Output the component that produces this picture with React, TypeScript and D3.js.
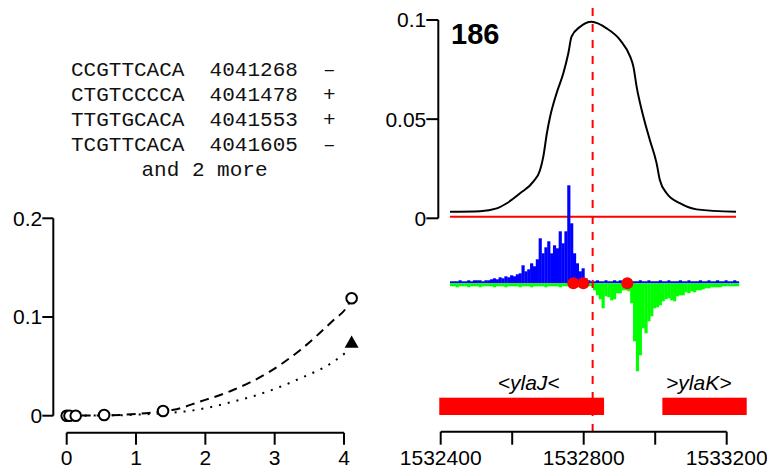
import React from "react";
import * as d3 from "d3";

// ---- left panel data ----
const motifLines = [
  "CCGTTCACA  4041268  \u2013",
  "CTGTCCCCA  4041478  +",
  "TTGTGCACA  4041553  +",
  "TCGTTCACA  4041605  \u2013",
];
const motifMore = "and 2 more";

const circleX = [0, 0.04, 0.13, 0.54, 1.39, 4.11];
const circleY = [0, 0, 0, 0.0007, 0.0048, 0.119];
const triangleX = [4.11];
const triangleY = [0.073];

const dashedX = [0, 0.5, 1, 1.4, 1.54, 1.92, 2.4, 2.89, 3.37, 3.85, 4.04, 4.11];
const dashedY = [0, 0.0003, 0.0017, 0.0047, 0.006, 0.0142, 0.026, 0.043, 0.0666, 0.097, 0.11, 0.119];
const dottedX = [0, 0.5, 1, 1.4, 1.73, 2.4, 2.89, 3.37, 3.85, 4.04];
const dottedY = [0, 0.0002, 0.001, 0.0025, 0.0045, 0.0142, 0.0243, 0.0379, 0.0547, 0.0648];

const leftXTicks = [0, 1, 2, 3, 4];
const leftYTicks = [0, 0.1, 0.2];

// ---- right panel data ----
const panelLabel = "186";
const rightYTicks = [0, 0.05, 0.1];
const genomeTicks = [1532400, 1532600, 1532800, 1533000, 1533200];
const genomeTickLabels = ["1532400", "", "1532800", "", "1533200"];

const profileX = [1532426, 1532510, 1532557, 1532585, 1532622, 1532659, 1532678, 1532687, 1532697, 1532706,
  1532724, 1532743, 1532757, 1532766, 1532790, 1532822, 1532864, 1532902, 1532930, 1532939,
  1532948, 1532967, 1532985, 1533004, 1533013, 1533032, 1533069, 1533116, 1533226];
const profileY = [0.0033, 0.0036, 0.005, 0.0076, 0.0126, 0.0185, 0.0244, 0.0311, 0.0429, 0.0512,
  0.063, 0.0731, 0.0832, 0.0916, 0.0966, 0.0991, 0.0958, 0.0899, 0.0815, 0.0765,
  0.0664, 0.0512, 0.0395, 0.0277, 0.0193, 0.0126, 0.0076, 0.0045, 0.0033];
const backgroundX = [1532426, 1533226];
const backgroundY = [0.0008, 0.0008];

const peakCenter = 1532825;

const coverageStart = 1532426;
const coverageStep = 8;
const plusCoverage = [
  2, 2, 2, 3, 2, 2, 3, 2, 3, 3, 3, 2, 3, 3, 4, 5, 4, 6, 5, 7,
  6, 8, 7, 9, 10, 18, 12, 14, 20, 17, 24, 45, 30, 36, 42, 30, 38, 35, 52, 40,
  52, 98, 60, 30, 20, 12, 15, 5, 3, 2, 2, 3, 2, 2, 3, 2, 2, 3, 2, 3,
  2, 2, 3, 2, 2, 2, 3, 2, 2, 3, 2, 2, 2, 3, 2, 2, 3, 2, 2, 2,
  3, 2, 2, 3, 2, 2, 2, 3, 2, 2, 3, 2, 2, 3, 2, 2, 3, 2, 2, 3, 2,
];
const minusCoverage = [
  3, 3, 4, 3, 3, 3, 4, 3, 3, 3, 4, 3, 3, 3, 3, 4, 3, 3, 3, 4,
  3, 3, 3, 3, 4, 3, 3, 3, 4, 3, 3, 3, 3, 4, 3, 3, 3, 3, 4, 3,
  3, 3, 3, 3, 4, 3, 3, 3, 3, 3, 7, 12, 16, 25, 13, 14, 17, 16, 10, 10,
  7, 7, 8, 20, 58, 88, 72, 45, 50, 38, 33, 25, 24, 22, 18, 16, 15, 17, 18, 13,
  12, 12, 9, 10, 8, 9, 7, 7, 6, 5, 5, 4, 4, 4, 4, 3, 3, 3, 3, 3, 3,
];
const siteX = [1532771, 1532799, 1532922];

const geneNames = ["<ylaJ<", ">ylaK>"];
const geneStart = [1532396, 1533020];
const geneEnd = [1532857, 1533256];
const geneLabelPos = [1532646, 1533122];

export default function App() {
  const W = 767, H = 474;
  const font = "Liberation Sans, Arial, sans-serif";

  // left scales
  const xL = d3.scaleLinear().domain([0, 4]).range([66.7, 344]);
  const yL = d3.scaleLinear().domain([0, 0.2]).range([415.7, 218.3]);
  // right scales
  const xG = d3.scaleLinear().domain([1532400, 1533200]).range([440.7, 726.7]);
  const yT = d3.scaleLinear().domain([0, 0.1]).range([218.3, 20]);
  const yC = d3.scaleLinear().domain([-100, 100]).range([383.3, 183.3]);

  const lineL = d3.line<[number, number]>().x(d => xL(d[0])).y(d => yL(d[1])).curve(d3.curveMonotoneX);
  const dashedPath = lineL(dashedX.map((x, i) => [x, dashedY[i]]))!;
  const dottedPath = lineL(dottedX.map((x, i) => [x, dottedY[i]]))!;

  const lineT = d3.line<[number, number]>().x(d => xG(d[0])).y(d => yT(d[1])).curve(d3.curveMonotoneX);
  const profilePath = lineT(profileX.map((x, i) => [x, profileY[i]]))!;
  const bgPath = d3.line<[number, number]>().x(d => xG(d[0])).y(d => yT(d[1]))(backgroundX.map((x, i) => [x, backgroundY[i]]))!;

  const tri = d3.symbol().type(d3.symbolTriangle).size(85)()!;

  const y0 = yC(0);
  const axisLX = 53.3;
  const axisLY = 432.7;
  const axisRX = 438.3;
  const axisGY = 431.7;

  return (
    <svg width={W} height={H} style={{ position: "absolute", left: 0, top: 0, background: "#fff" }}>
      {/* motif text */}
      <g fontFamily="Liberation Mono, Courier New, monospace" fontSize={21} fill="#111">
        {motifLines.map((t, i) => (
          <text key={i} x={71} y={76 + i * 25} style={{ whiteSpace: "pre" }} xmlSpace="preserve">{t}</text>
        ))}
        <text x={204.5} y={176} textAnchor="middle">{motifMore}</text>
      </g>

      {/* left panel axes */}
      <g stroke="#000" strokeWidth={2} fill="none">
        <line x1={axisLX} x2={axisLX} y1={yL(0.2)} y2={yL(0)} />
        {leftYTicks.map(t => <line key={t} x1={axisLX - 11} x2={axisLX} y1={yL(t)} y2={yL(t)} />)}
        <line x1={xL(0)} x2={xL(4)} y1={axisLY} y2={axisLY} />
        {leftXTicks.map(t => <line key={t} x1={xL(t)} x2={xL(t)} y1={axisLY} y2={axisLY + 12} />)}
      </g>
      <g fontFamily={font} fontSize={21} fill="#000">
        {leftYTicks.map(t => (
          <text key={t} x={axisLX - 11} y={yL(t)} dy="0.35em" textAnchor="end">{String(t)}</text>
        ))}
        {leftXTicks.map(t => (
          <text key={t} x={xL(t)} y={465} textAnchor="middle">{String(t)}</text>
        ))}
      </g>
      <path d={dashedPath} fill="none" stroke="#000" strokeWidth={2} strokeDasharray="9,6" />
      <path d={dottedPath} fill="none" stroke="#000" strokeWidth={2} strokeDasharray="2,7" />
      {circleX.map((x, i) => (
        <circle key={i} cx={xL(x)} cy={yL(circleY[i])} r={5.3} fill="#fff" stroke="#000" strokeWidth={2} />
      ))}
      {triangleX.map((x, i) => (
        <path key={i} d={tri} transform={`translate(${xL(x)},${yL(triangleY[i])})`} fill="#000" />
      ))}

      {/* right panel top axis */}
      <g stroke="#000" strokeWidth={2} fill="none">
        <line x1={axisRX} x2={axisRX} y1={yT(0.1)} y2={yT(0)} />
        {rightYTicks.map(t => <line key={t} x1={axisRX - 12} x2={axisRX} y1={yT(t)} y2={yT(t)} />)}
      </g>
      <g fontFamily={font} fontSize={21} fill="#000">
        {rightYTicks.map(t => (
          <text key={t} x={axisRX - 12} y={yT(t)} dy="0.35em" textAnchor="end">{String(t)}</text>
        ))}
      </g>
      <text x={451} y={44} fontFamily={font} fontSize={29} fontWeight="bold" fill="#000">{panelLabel}</text>

      <path d={bgPath} fill="none" stroke="#f00" strokeWidth={2} />
      <path d={profilePath} fill="none" stroke="#000" strokeWidth={2} />

      {/* coverage */}
      <g fill="#00f">
        {plusCoverage.map((v, i) => {
          const b = coverageStart + i * coverageStep;
          const x1 = xG(b), x2 = xG(b + coverageStep);
          return <rect key={i} x={x1} y={yC(v)} width={x2 - x1 + 0.3} height={y0 - yC(v)} />;
        })}
      </g>
      <g fill="#0f0">
        {minusCoverage.map((v, i) => {
          const b = coverageStart + i * coverageStep;
          const x1 = xG(b), x2 = xG(b + coverageStep);
          return <rect key={i} x={x1} y={y0} width={x2 - x1 + 0.3} height={yC(-v) - y0} />;
        })}
      </g>
      {siteX.map((s, i) => <circle key={i} cx={xG(s)} cy={y0} r={6} fill="#f00" />)}

      {/* genes */}
      {geneNames.map((g, i) => (
        <g key={g}>
          <rect x={xG(geneStart[i])} y={397.7} width={xG(geneEnd[i]) - xG(geneStart[i])} height={17.3} fill="#f00" />
          <text x={xG(geneLabelPos[i])} y={390} textAnchor="middle" fontFamily={font}
            fontSize={21} fontStyle="italic" fill="#000">{g}</text>
        </g>
      ))}

      {/* peak center */}
      <line x1={xG(peakCenter)} x2={xG(peakCenter)} y1={8} y2={axisGY} stroke="#f00" strokeWidth={2} strokeDasharray="8,8" />

      {/* genome axis */}
      <g stroke="#000" strokeWidth={2} fill="none">
        <line x1={xG(1532400)} x2={xG(1533200)} y1={axisGY} y2={axisGY} />
        {genomeTicks.map(t => <line key={t} x1={xG(t)} x2={xG(t)} y1={axisGY} y2={axisGY + 13} />)}
      </g>
      <g fontFamily={font} fontSize={21} fill="#000">
        {genomeTicks.map((t, i) => (
          <text key={t} x={xG(t)} y={465} textAnchor="middle">{genomeTickLabels[i]}</text>
        ))}
      </g>
    </svg>
  );
}
